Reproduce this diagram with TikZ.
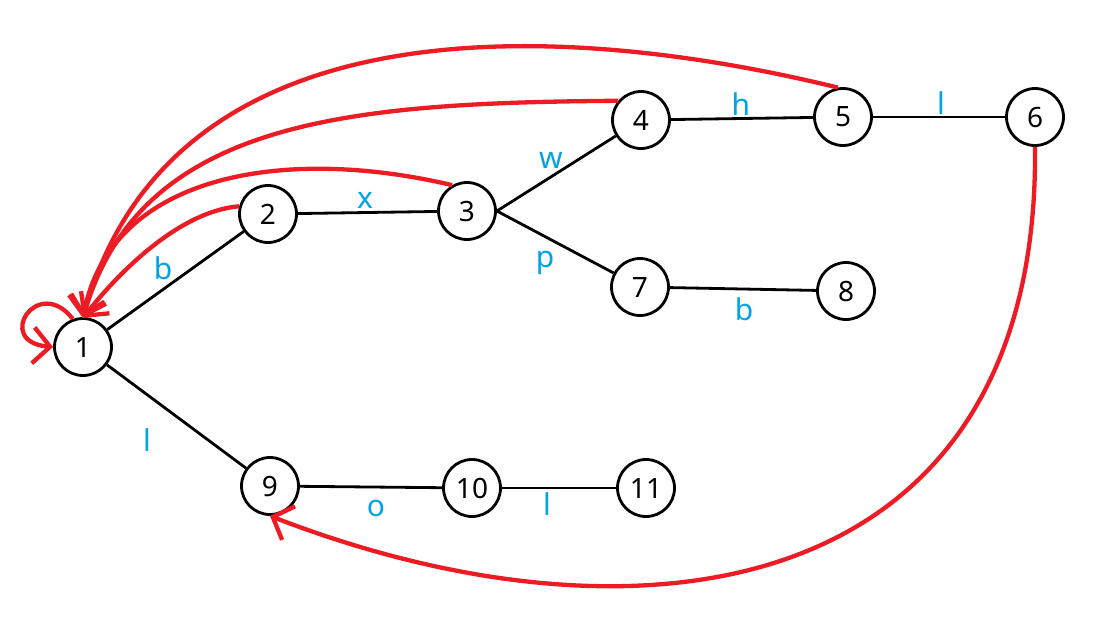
\documentclass[tikz,border=0pt]{standalone}
\usepackage{fontspec}
\setmainfont{Noto Sans}
\usetikzlibrary{arrows.meta}
\definecolor{pred}{RGB}{237,28,36}
\definecolor{pblue}{RGB}{0,162,232}
\begin{document}
\begin{tikzpicture}[x=1pt,y=-1pt,
  vert/.style={circle,draw=black,line width=2.8pt,minimum size=57pt,inner sep=0pt,fill=white,font=\fontsize{28}{30}\selectfont},
  edge/.style={draw=black,line width=2.8pt},
  lab/.style={text=pblue,font=\fontsize{30}{32}\selectfont,inner sep=0pt},
  back/.style={draw=pred,line width=4.3pt,-{Straight Barb[length=17pt,width=36pt,line width=4.3pt]}}]
\useasboundingbox (0,0) rectangle (1101,641);
\node[vert] (n1) at (83,347) {1};
\node[vert] (n2) at (268,214) {2};
\node[vert] (n3) at (467,211) {3};
\node[vert] (n4) at (641,120) {4};
\node[vert] (n5) at (843,117) {5};
\node[vert] (n6) at (1035,117) {6};
\node[vert] (n7) at (640,287) {7};
\node[vert] (n8) at (846,291) {8};
\node[vert] (n9) at (270,486) {9};
\node[vert] (n10) at (472,488) {10};
\node[vert] (n11) at (646,488) {11};
\draw[edge] (n1) -- (n2);
\draw[edge] (n2) -- (n3);
\draw[edge] (n3.east) -- (n4);
\draw[edge] (n3.east) -- (n7);
\draw[edge] (n4) -- (n5);
\draw[edge] (n5) -- (n6);
\draw[edge] (n7) -- (n8);
\draw[edge] (n1) -- (n9);
\draw[edge] (n9) -- (n10);
\draw[edge] (n10) -- (n11);
\node[lab] (lb1) at (163,268) {b};
\node[lab] (lx) at (365,200) {x};
\node[lab] (lw) at (551,160) {w};
\node[lab] (lp) at (545,263) {p};
\node[lab] (lh) at (741,104) {h};
\node[lab] (ll1) at (941,103) {l};
\node[lab] (lb2) at (744,309) {b};
\node[lab] (ll2) at (147,440) {l};
\node[lab] (lo) at (376,508) {o};
\node[lab] (ll3) at (547,504) {l};
\coordinate (tip) at (83,318);
\draw[back] (n2.165) .. controls +(-60,5) and +(35,-45) .. (tip);
\draw[back] (n3.120) .. controls +(-170,-40) and +(27,-143) .. (tip);
\draw[back] (n4.140) .. controls +(-270,2) and +(57,-198) .. (tip);
\draw[back] (n5.100) .. controls +(-278,-68) and +(87,-318) .. (tip);
\draw[back] (n1.110) .. controls +(-35,-45) and +(-60,-5) .. (n1.west);
\draw[back] (n6.south) .. controls +(5,452) and +(375,145) .. (n9.south);
\end{tikzpicture}
\end{document}
